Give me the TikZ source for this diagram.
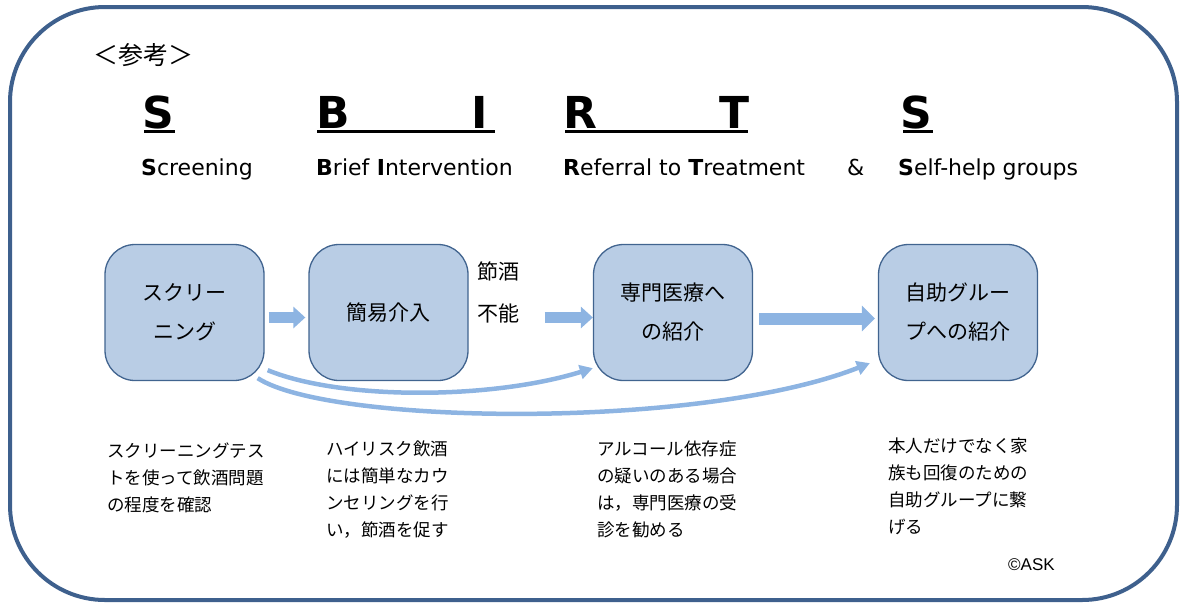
\documentclass[tikz,border=0pt]{standalone}
\usepackage{fontspec}
\setmainfont{DejaVu Sans}
\newfontfamily\jp{Noto Sans CJK JP}
\newfontfamily\arial{Liberation Sans}
\usetikzlibrary{arrows.meta}
\definecolor{frameblue}{RGB}{62,96,141}
\definecolor{boxfill}{RGB}{185,205,229}
\definecolor{boxline}{RGB}{65,100,143}
\definecolor{arrowc}{RGB}{141,180,226}
\begin{document}
\begin{tikzpicture}[x=1pt,y=-1pt,
  stepbox/.style={draw=boxline, line width=1.3pt, fill=boxfill, rounded corners=30pt,
    minimum width=159pt, minimum height=136pt, inner sep=0pt, align=center,
    font=\jp\fontsize{21}{39}\selectfont},
  blockarrow/.style={draw=arrowc, line width=11pt, -{Triangle[length=12pt,width=21pt]}},
  bigarrow/.style={draw=arrowc, line width=12pt, -{Triangle[length=13pt,width=25pt]}},
  curvearrow/.style={draw=arrowc, line width=4.5pt, -{Triangle[length=13pt,width=14pt]}},
  bigletter/.style={font=\bfseries\fontsize{44}{44}\selectfont, inner sep=0pt, anchor=base west},
  subtitle/.style={font=\fontsize{22}{22}\selectfont, inner sep=0pt, anchor=base west},
  desc/.style={font=\jp\fontsize{17.5}{27}\selectfont, inner sep=0pt, anchor=north west, align=left},
  uline/.style={line width=3pt}
]
\useasboundingbox (0,0) rectangle (1182,603);
\draw[frameblue, line width=4pt, rounded corners=95pt] (10,7) rectangle (1177,600);

% header
\node[font=\jp\fontsize{25}{25}\selectfont, anchor=west, inner sep=0pt] (ref) at (93,55) {＜参考＞};

\node[bigletter] (L1) at (142,128) {S};
\node[bigletter] (L2) at (316,128) {B};
\node[bigletter] (L3) at (471,128) {I};
\node[bigletter] (L4) at (563,128) {R};
\node[bigletter] (L5) at (719,128) {T};
\node[bigletter] (L6) at (900,128) {S};
\draw[uline] (144,131.5) -- (175,131.5);
\draw[uline] (317,131.5) -- (495,131.5);
\draw[uline] (565,131.5) -- (748,131.5);
\draw[uline] (903,131.5) -- (933,131.5);

\node[subtitle] (t1) at (141,175) {\textbf{S}creening};
\node[subtitle] (t2) at (316,175) {\textbf{B}rief \textbf{I}ntervention};
\node[subtitle] (t3) at (563,175) {\textbf{R}eferral to \textbf{T}reatment};
\node[subtitle] (t4) at (847,175) {\&};
\node[subtitle] (t5) at (898,175) {\textbf{S}elf-help groups};

% boxes
\node[stepbox] (b1) at (184.5,312.5) {スクリー\\ニング};
\node[stepbox] (b2) at (388.5,312.5) {簡易介入};
\node[stepbox] (b3) at (673,312.5) {専門医療へ\\の紹介};
\node[stepbox] (b4) at (958,312.5) {自助グルー\\プへの紹介};

\node[font=\jp\fontsize{21}{42}\selectfont, align=left, inner sep=0pt] (lbl) at (498,292) {節酒\\不能};

% arrows
\draw[blockarrow] ([shift={(4pt,-5pt)}]b1.east) -- ([shift={(-3pt,-5pt)}]b2.west);
\draw[blockarrow] ([shift={(76pt,-5pt)}]b2.east) -- ([yshift=-5pt]b3.west);
\draw[bigarrow] ([shift={(6pt,-6pt)}]b3.east) -- ([shift={(-3pt,-6pt)}]b4.west);
\draw[curvearrow] ([shift={(3pt,11pt)}]b1.south east) .. controls (340,400) and (490,400) .. ([yshift=13pt]b3.south west);
\draw[curvearrow] ([shift={(-7pt,3pt)}]b1.south east) .. controls (330,425) and (700,430) .. ([shift={(-8pt,18pt)}]b4.south west);

% descriptions
\node[desc] (d1) at (107,443) {スクリーニングテス\\トを使って飲酒問題\\の程度を確認};
\node[desc] (d2) at (326,441) {ハイリスク飲酒\\には簡単なカウ\\ンセリングを行\\い，節酒を促す};
\node[desc] (d3) at (597,441) {アルコール依存症\\の疑いのある場合\\は，専門医療の受\\診を勧める};
\node[desc] (d4) at (888,438) {本人だけでなく家\\族も回復のための\\自助グループに繋\\げる};
\node[font=\arial\fontsize{17}{17}\selectfont, inner sep=0pt, anchor=west] (copy) at (1008,565) {©ASK};
\end{tikzpicture}
\end{document}
